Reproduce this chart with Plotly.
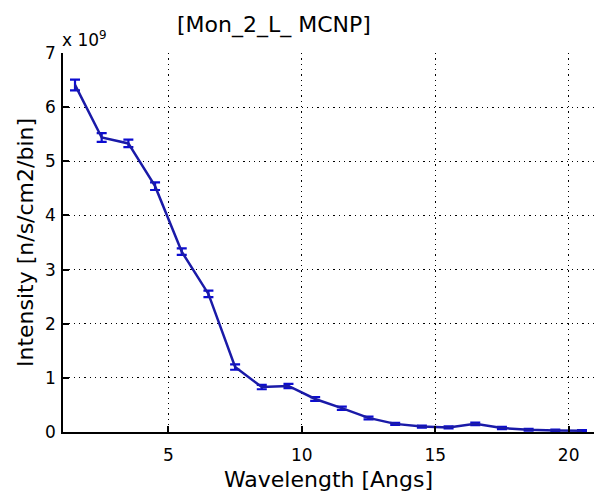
import plotly.graph_objects as go

wavelength = [1.5, 2.5, 3.5, 4.5, 5.5, 6.5, 7.5, 8.5, 9.5, 10.5,
              11.5, 12.5, 13.5, 14.5, 15.5, 16.5, 17.5, 18.5, 19.5, 20.5]
intensity_e9 = [6.41, 5.44, 5.33, 4.54, 3.33, 2.55, 1.20, 0.83, 0.85, 0.61,
                0.44, 0.26, 0.15, 0.10, 0.085, 0.15, 0.074, 0.042, 0.03, 0.024]
error_e9 = [0.10, 0.08, 0.07, 0.07, 0.06, 0.06, 0.05, 0.04, 0.04, 0.035,
            0.03, 0.025, 0.02, 0.02, 0.02, 0.025, 0.02, 0.015, 0.015, 0.012]
x_ticks = [5, 10, 15, 20]
y_ticks = [0, 1, 2, 3, 4, 5, 6, 7]

FONT = "DejaVu Sans, sans-serif"

fig = go.Figure()
fig.add_trace(go.Scatter(
    x=wavelength, y=intensity_e9, mode="lines",
    line=dict(color="#1a1aa8", width=2.5),
    error_y=dict(type="data", array=error_e9, visible=True,
                 color="#0c0cd0", thickness=2.2, width=5),
    showlegend=False,
))

axis_common = dict(
    showgrid=True, gridcolor="black", griddash="1.3px,4px", gridwidth=1.3,
    showline=True, linecolor="black", linewidth=1.5,
    ticks="inside", ticklen=6, tickcolor="black", tickwidth=1.5,
    zeroline=False, mirror=False,
    tickfont=dict(family=FONT, size=17, color="black"),
)

fig.update_layout(
    width=594, height=501,
    margin=dict(l=63, r=0, t=53, b=69),
    paper_bgcolor="white", plot_bgcolor="white",
    xaxis=dict(range=[1.05, 20.95], tickvals=x_ticks, ticklabelstandoff=7,
               title=dict(text="Wavelength [Angs]", standoff=7,
                          font=dict(family=FONT, size=22, color="black")),
               **axis_common),
    yaxis=dict(range=[0, 7], tickvals=y_ticks, ticklabelstandoff=2,
               title=dict(text="Intensity [n/s/cm2/bin]", standoff=5,
                          font=dict(family=FONT, size=22, color="black")),
               **axis_common),
    annotations=[
        dict(text="[Mon_2_L_ MCNP]", xref="paper", yref="paper",
             x=(274 - 63) / 531, y=1, yshift=28, xanchor="center", yanchor="middle",
             showarrow=False, font=dict(family=FONT, size=22, color="black")),
        dict(text="x 10<sup>9</sup>", xref="paper", yref="paper",
             x=0, y=1, xshift=-3, yshift=1, xanchor="left", yanchor="bottom",
             showarrow=False, font=dict(family=FONT, size=17, color="black")),
    ],
)

fig.write_html("out.html")
